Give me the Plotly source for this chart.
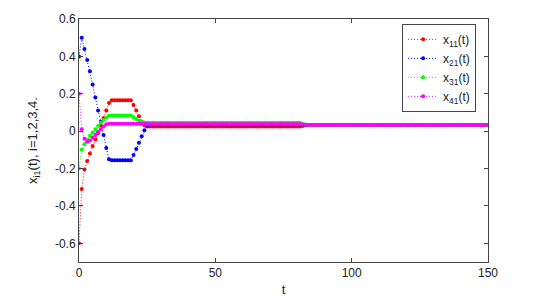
import plotly.graph_objects as go

t = list(range(0, 151))

x11 = ([-0.6, -0.31, -0.205, -0.16, -0.12, -0.08, -0.045, -0.01, 0.03, 0.07, 0.11, 0.15]
       + [0.165] * 8
       + [0.14, 0.11, 0.08, 0.05, 0.03]
       + [0.025] * 57
       + [0.028, 0.031]
       + [0.033] * 67)

x21 = ([0.4, 0.5, 0.44, 0.38, 0.32, 0.25, 0.18, 0.11, 0.05, -0.02, -0.09, -0.15]
       + [-0.155] * 8
       + [-0.128, -0.096, -0.062, -0.027, 0.005, 0.03]
       + [0.036] * 56
       + [0.034, 0.033]
       + [0.033] * 67)

x31 = ([-0.2, -0.1, -0.07, -0.045, -0.025, -0.007, 0.01, 0.027, 0.045, 0.06, 0.073, 0.082]
       + [0.084] * 8
       + [0.075, 0.065, 0.056, 0.05, 0.046]
       + [0.045] * 57
       + [0.039, 0.035]
       + [0.033] * 67)

x41 = ([0.2, 0.01, -0.04, -0.057, -0.05, -0.035, -0.02, -0.005, 0.01, 0.025, 0.037]
       + [0.04] * 14
       + [0.038] * 57
       + [0.036, 0.034]
       + [0.033] * 67)

series = [
    ("x<sub>11</sub>(t)", x11, "#ff0000"),
    ("x<sub>21</sub>(t)", x21, "#0000ff"),
    ("x<sub>31</sub>(t)", x31, "#00ff00"),
    ("x<sub>41</sub>(t)", x41, "#ff00ff"),
]

fig = go.Figure()
for name, vals, col in series:
    fig.add_trace(go.Scatter(
        x=t, y=vals, name=name, mode="lines+markers",
        line=dict(color=col, width=1, dash="1px,2px"),
        marker=dict(color=col, size=4),
    ))

axis_common = dict(
    showline=True, mirror="ticks", linecolor="#444444", linewidth=1,
    ticks="inside", ticklen=4, tickcolor="#444444",
    showgrid=False, zeroline=False, automargin=False,
    tickfont=dict(family="Liberation Sans, Arial", size=12, color="#222222"),
)

# page body has an 8px default margin, so the figure is sized to compensate
fig.update_layout(
    width=551, height=292,
    margin=dict(l=71, r=71, t=11, b=38),
    paper_bgcolor="white", plot_bgcolor="white",
    font=dict(family="Liberation Sans, Arial", size=12, color="#222222"),
    xaxis=dict(range=[0, 150], tickvals=[0, 50, 100, 150],
               title=dict(text="t", standoff=5, font=dict(size=13)), **axis_common),
    yaxis=dict(range=[-0.7, 0.6], tickvals=[-0.6, -0.4, -0.2, 0, 0.2, 0.4, 0.6],
               ticktext=["-0.6", "-0.4", "-0.2", "0", "0.2", "0.4", "0.6"],
               title=dict(text="x<sub>i1</sub>(t), i=1,2,3,4.", standoff=14, font=dict(size=13)),
               **axis_common),
    legend=dict(x=0.79, y=0.98, xanchor="left", yanchor="top",
                bordercolor="#444444", borderwidth=1, bgcolor="white",
                font=dict(size=12), tracegroupgap=0, itemwidth=30),
    showlegend=True,
)

fig.write_html("out.html")
